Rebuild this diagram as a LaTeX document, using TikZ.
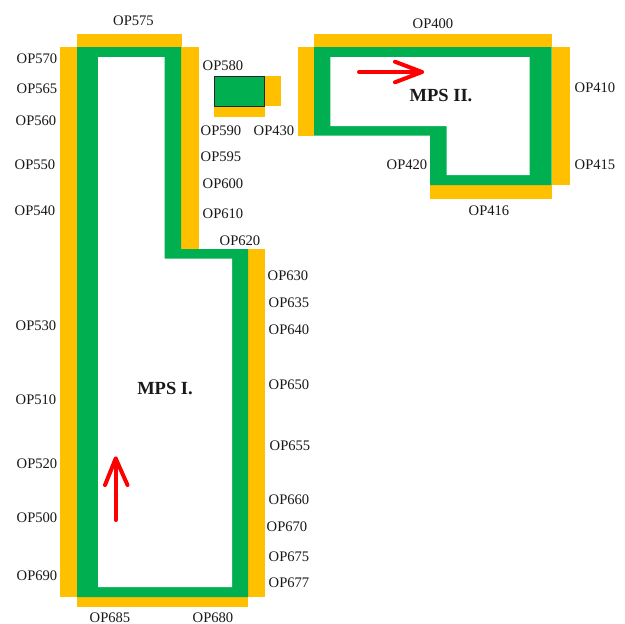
\documentclass[tikz,border=0pt]{standalone}
\usepackage{fontspec}
\setmainfont{Liberation Serif}
\definecolor{opor}{RGB}{255,192,0}
\definecolor{opgr}{RGB}{0,176,80}
\tikzset{
  x=1pt,y=-1pt,
  orfill/.style={fill=opor,draw=none},
  grfill/.style={fill=opgr,draw=none},
  wfill/.style={fill=white,draw=none},
  lab/.style={font=\fontsize{14.6}{15}\selectfont,inner sep=0pt,text=black!90,yshift=-0.7pt},
  mps/.style={font=\fontsize{18.5}{19}\selectfont\bfseries,inner sep=0pt,text=black!90,yshift=-0.8pt},
  redarrow/.style={draw=red,line width=4pt,line cap=round,line join=round},
}
\begin{document}
\begin{tikzpicture}
\useasboundingbox (0,0) rectangle (624,624);
\fill[white] (0,0) rectangle (624,624);
% MPS I orange
\path[orfill] (60,47) rectangle (77,597);
\path[orfill] (77,34) rectangle (182,47);
\path[orfill] (181,47) rectangle (198.5,249);
\path[orfill] (248,249) rectangle (265,597);
\path[orfill] (77,597) rectangle (248,607);
% MPS I green
\path[grfill] (77,47) -- (181,47) -- (181,249) -- (248,249) -- (248,597) -- (77,597) -- cycle;
\path[wfill] (98,57) -- (164.5,57) -- (164.5,258.5) -- (232,258.5) -- (232,587) -- (98,587) -- cycle;
% small element
\path[orfill] (264.5,76) rectangle (281,106);
\path[orfill] (214,106) rectangle (265,116.5);
\node[draw=black!85,line width=0.8pt,fill=opgr,minimum width=50pt,minimum height=29.5pt,inner sep=0pt,outer sep=0pt,anchor=north west] (el) at (214.5,76.5) {};
% MPS II orange
\path[orfill] (314,34) rectangle (551.7,47);
\path[orfill] (298,47) rectangle (314,135.7);
\path[orfill] (551.7,47) rectangle (570,185);
\path[orfill] (430,185) rectangle (551.7,199);
% MPS II green
\path[grfill] (314,47) -- (551.7,47) -- (551.7,185) -- (430,185) -- (430,135.7) -- (314,135.7) -- cycle;
\path[wfill] (330.3,57) -- (529.7,57) -- (529.7,175) -- (446.7,175) -- (446.7,126) -- (330.3,126) -- cycle;
% arrows
\coordinate (ra) at (359,72);
\coordinate (rb) at (422,72);
\coordinate (rc) at (395,61.7);
\coordinate (rd) at (395,82.3);
\draw[redarrow] (ra) -- (rb);
\draw[redarrow] (rc) -- (rb) -- (rd);
\coordinate (ua) at (115.7,520);
\coordinate (ub) at (115.7,458.5);
\coordinate (uc) at (105,485);
\coordinate (ud) at (127.5,485);
\draw[redarrow] (ua) -- (ub);
\draw[redarrow] (uc) -- (ub) -- (ud);
% titles
\node[mps] (m1) at (165,388) {MPS I.};
\node[mps] (m2) at (441,95) {MPS II.};
% labels
\node[lab] (l575) at (133.5,20.5) {OP575};
\node[lab] (l570) at (37,58.5) {OP570};
\node[lab] (l565) at (37,88.5) {OP565};
\node[lab] (l560) at (36,120.5) {OP560};
\node[lab] (l550) at (35,164.5) {OP550};
\node[lab] (l540) at (35,210.5) {OP540};
\node[lab] (l530) at (36,325) {OP530};
\node[lab] (l510) at (36,399) {OP510};
\node[lab] (l520) at (37,463) {OP520};
\node[lab] (l500) at (37,517) {OP500};
\node[lab] (l690) at (37,575) {OP690};
\node[lab] (l685) at (110,617) {OP685};
\node[lab] (l680) at (213,617) {OP680};
\node[lab] (l580) at (223,65.5) {OP580};
\node[lab] (l590) at (221,130) {OP590};
\node[lab] (l430) at (274,130) {OP430};
\node[lab] (l595) at (221,156.5) {OP595};
\node[lab] (l600) at (223,183) {OP600};
\node[lab] (l610) at (223,213) {OP610};
\node[lab] (l620) at (240,240) {OP620};
\node[lab] (l630) at (288,275.5) {OP630};
\node[lab] (l635) at (289,302) {OP635};
\node[lab] (l640) at (289,329) {OP640};
\node[lab] (l650) at (289,384) {OP650};
\node[lab] (l655) at (290,445) {OP655};
\node[lab] (l660) at (289,499) {OP660};
\node[lab] (l670) at (287,526) {OP670};
\node[lab] (l675) at (289,556) {OP675};
\node[lab] (l677) at (289,582) {OP677};
\node[lab] (l400) at (433,23) {OP400};
\node[lab] (l410) at (595,87) {OP410};
\node[lab] (l415) at (595,164) {OP415};
\node[lab] (l420) at (407,164) {OP420};
\node[lab] (l416) at (489,210) {OP416};
\end{tikzpicture}
\end{document}
